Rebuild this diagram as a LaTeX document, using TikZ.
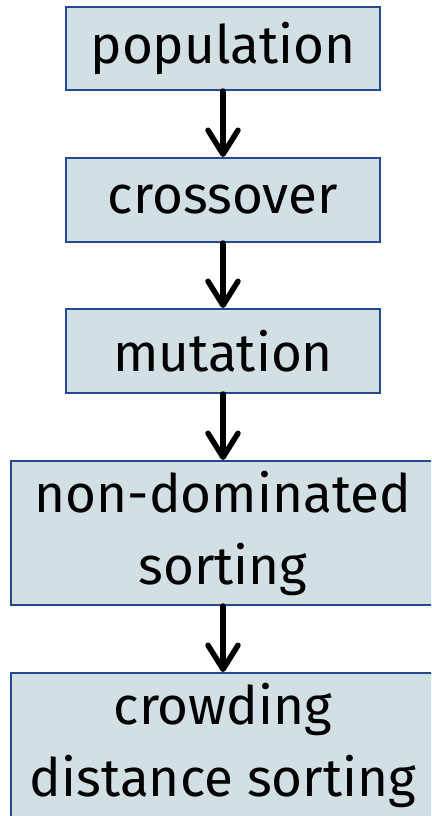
\documentclass[tikz,border=0pt]{standalone}
\usepackage{fontspec}
\setmainfont{Fira Sans}
\usetikzlibrary{arrows.meta}
\definecolor{boxfill}{HTML}{D2E0E3}
\definecolor{boxline}{HTML}{23498F}
\begin{document}
\begin{tikzpicture}[x=1pt,y=-1pt,
  stage/.style={draw=boxline, fill=boxfill, line width=2pt, inner sep=0pt,
    align=center, font=\fontsize{53}{72}\selectfont},
  flow/.style={line width=5.5pt, line cap=round,
    -{Straight Barb[length=24pt,width=30pt,line cap=round,line join=round]}}]
\useasboundingbox (0,0) rectangle (431,816);
\clip (0,0) rectangle (431,816);
\node[stage, minimum width=314pt, minimum height=83pt] (pop) at (223,48.5) {population};
\node[stage, minimum width=314pt, minimum height=84pt] (cross) at (223,200) {crossover};
\node[stage, minimum width=314pt, minimum height=84pt] (mut) at (223,351) {mutation};
\node[stage, minimum width=424pt, minimum height=144pt] (nds) at (223,533) {non-dominated\\sorting};
\node[stage, minimum width=424pt, minimum height=144pt] (cds) at (223,745) {crowding\\distance sorting};
\draw[flow] (pop.south) -- (cross.north);
\draw[flow] (cross.south) -- (mut.north);
\draw[flow] (mut.south) -- (nds.north);
\draw[flow] (nds.south) -- (cds.north);
\end{tikzpicture}
\end{document}
